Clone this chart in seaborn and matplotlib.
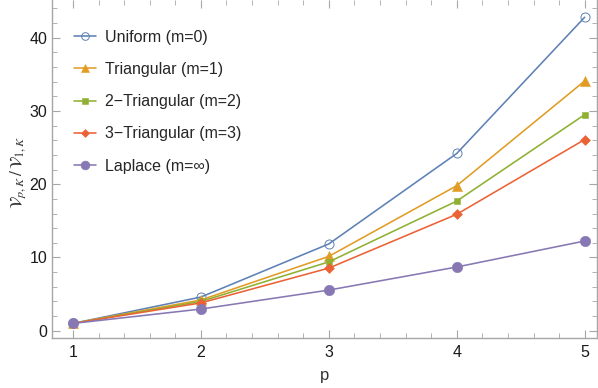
import numpy as np
import pandas as pd
import matplotlib
matplotlib.use("Agg")
import matplotlib.pyplot as plt
import seaborn as sns
from matplotlib.ticker import MultipleLocator

p_vals = [1, 2, 3, 4, 5]
uniform = [1.0, 4.6, 11.85, 24.2, 42.8]
triangular = [1.0, 4.2, 10.15, 19.8, 34.1]
tri2 = [1.0, 4.0, 9.4, 17.7, 29.5]
tri3 = [1.0, 3.8, 8.55, 15.9, 26.1]
laplace = [1.0, 2.96, 5.55, 8.7, 12.25]

series_names = ["Uniform (m=0)", "Triangular (m=1)", "2\u2212Triangular (m=2)",
                "3\u2212Triangular (m=3)", "Laplace (m=\u221e)"]
series_vals = [uniform, triangular, tri2, tri3, laplace]
colors = ["#5E81B5", "#E19C24", "#8FB032", "#EB6235", "#8778B3"]
markers = ["o", "^", "s", "D", "o"]
msizes = [6.5, 6.5, 4.6, 4.6, 7.5]

rows = []
for name, vals in zip(series_names, series_vals):
    for p, v in zip(p_vals, vals):
        rows.append({"p": p, "v": v, "series": name})
df = pd.DataFrame(rows)

sns.set_theme(style="white")
plt.rcParams['font.family'] = ['Liberation Sans', 'DejaVu Sans']
plt.rcParams['mathtext.fontset'] = 'stix'

fig = plt.figure(figsize=(5.98, 3.88), dpi=100)
ax = fig.add_axes([52/598, 1 - 337.7/388, (596.7-52)/598, 337.7/388])

for name, c, m, ms in zip(series_names, colors, markers, msizes):
    sub = df[df.series == name]
    sns.lineplot(data=sub, x="p", y="v", ax=ax, color=c, linewidth=1.15,
                 label=name, legend=False)
    line = ax.lines[-1]
    line.set_marker(m)
    line.set_markersize(ms)
    if name.startswith("Uniform"):
        line.set_markerfacecolor("none")
        line.set_markeredgecolor(c)
        line.set_markeredgewidth(0.7)
    else:
        line.set_markerfacecolor(c)
        line.set_markeredgecolor(c)
        line.set_markeredgewidth(0.4)

ax.set_xlim(0.836, 5.094)
ax.set_ylim(-0.95, 45.15)
ax.xaxis.set_major_locator(MultipleLocator(1))
ax.xaxis.set_minor_locator(MultipleLocator(0.2))
ax.yaxis.set_major_locator(MultipleLocator(10))
ax.yaxis.set_minor_locator(MultipleLocator(2))

gray = "#A6A6A6"
for s in ax.spines.values():
    s.set_color(gray)
    s.set_linewidth(1.0)
ax.spines['top'].set_visible(False)
ax.tick_params(which='both', direction='in', colors=gray, top=True, right=True,
               bottom=True, left=True, labelsize=11.5, labelcolor='#1a1a1a')
ax.tick_params(which='major', length=6, width=0.8)
ax.tick_params(which='minor', length=3.5, width=0.6)
ax.tick_params(axis='x', which='major', pad=5)
ax.tick_params(axis='y', which='major', pad=3.5)

ax.set_xlabel("p", fontsize=12, color="#333333")
ax.xaxis.set_label_coords(0.5, -0.09)
ax.set_ylabel(r"$\mathcal{V}_{p,K}\,/\,\mathcal{V}_{1,K}$", fontsize=12.5, color="#333333")
ax.yaxis.set_label_coords(-0.044, 0.49)

handles = [plt.Line2D([], [], color=c, marker=m, markersize=ms * 0.85,
                      markerfacecolor=("none" if i == 0 else c), markeredgecolor=c, linewidth=1.15,
                      markeredgewidth=(0.7 if i == 0 else 0.4))
           for i, (c, m, ms) in enumerate(zip(colors, markers, msizes))]
ax.legend(handles, series_names, loc="upper left", bbox_to_anchor=(0.0404, 0.912), frameon=False,
          fontsize=11.5, handlelength=1.4, labelspacing=1.08, handletextpad=0.56,
          borderpad=0, borderaxespad=0)

fig.savefig("out.png", dpi=100)
